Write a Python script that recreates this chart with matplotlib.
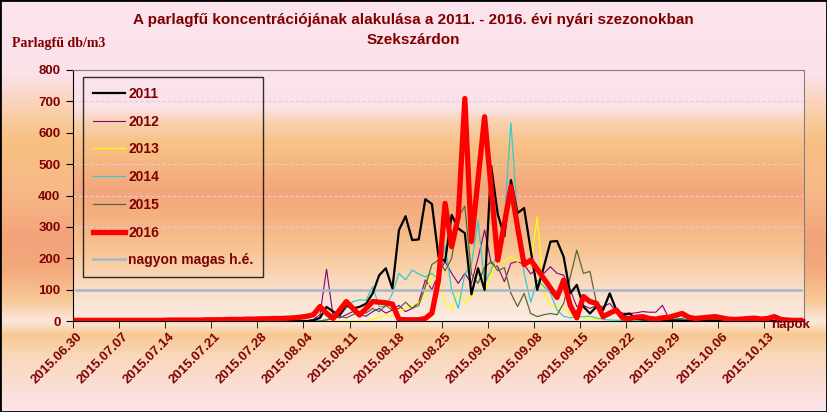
import numpy as np
import matplotlib.pyplot as plt
from matplotlib.patches import Rectangle

plt.rcParams['font.family'] = ['Liberation Sans', 'DejaVu Sans']

# Days 2015.06.30 .. 2015.10.19 (one value per day, every year mapped onto 2015)
tick_labels = ['2015.06.30', '2015.07.07', '2015.07.14', '2015.07.21', '2015.07.28',
               '2015.08.04', '2015.08.11', '2015.08.18', '2015.08.25', '2015.09.01',
               '2015.09.08', '2015.09.15', '2015.09.22', '2015.09.29', '2015.10.06',
               '2015.10.13']

y2011 = [0, 0, 0, 0, 0, 0, 0, 0, 0, 0,
         0, 0, 0, 0, 0, 0, 0, 0, 0, 0,
         0, 0, 0, 0, 0, 0, 0, 0, 0, 0,
         0, 0, 0, 0, 0, 0, 2, 10, 45, 30,
         19, 50, 40, 45, 55, 88, 146, 168, 104, 290,
         334, 258, 260, 388, 373, 205, 190, 338, 295, 280,
         85, 168, 99, 494, 340, 270, 449, 344, 360, 226,
         99, 173, 253, 255, 205, 88, 115, 46, 24, 46,
         35, 88, 35, 19, 24, 8, 5, 4, 3, 2,
         2, 1, 1, 1, 1, 1, 1, 1, 0, 0,
         0, 0, 0, 0, 0, 0, 0, 0, 0, 0,
         0]
y2012 = [0, 0, 0, 0, 0, 0, 0, 0, 0, 0,
         0, 0, 0, 0, 0, 0, 0, 0, 0, 0,
         0, 0, 0, 0, 0, 0, 0, 0, 0, 0,
         0, 0, 0, 0, 0, 0, 5, 20, 165, 15,
         10, 20, 30, 20, 15, 30, 40, 25, 35, 50,
         30, 40, 60, 131, 100, 150, 190, 152, 120, 152,
         120, 200, 290, 184, 173, 125, 184, 190, 180, 150,
         168, 152, 173, 152, 146, 99, 46, 50, 40, 50,
         45, 56, 30, 25, 24, 26, 30, 28, 28, 50,
         8, 5, 3, 3, 3, 3, 2, 2, 2, 2,
         2, 2, 2, 2, 2, 2, 1, 1, 1, 1,
         1]
y2013 = [0, 0, 0, 0, 0, 0, 0, 0, 0, 0,
         0, 0, 0, 0, 0, 0, 0, 0, 0, 0,
         0, 0, 0, 0, 0, 0, 0, 0, 0, 0,
         0, 0, 0, 0, 0, 0, 0, 0, 0, 0,
         0, 0, 0, 0, 0, 5, 10, 20, 15, 30,
         40, 50, 60, 80, 150, 120, 60, 35, 100, 60,
         78, 100, 92, 150, 194, 190, 205, 190, 195, 184,
         332, 88, 51, 46, 40, 20, 15, 10, 8, 5,
         5, 3, 2, 2, 2, 2, 2, 2, 2, 2,
         2, 1, 1, 1, 1, 1, 1, 1, 1, 1,
         1, 1, 1, 1, 1, 1, 1, 1, 1, 1,
         0]
y2014 = [0, 0, 0, 0, 0, 0, 0, 0, 0, 0,
         0, 0, 0, 0, 0, 0, 0, 0, 0, 0,
         0, 0, 0, 0, 0, 0, 0, 0, 0, 0,
         0, 0, 0, 0, 0, 0, 0, 0, 5, 10,
         19, 40, 62, 67, 67, 109, 46, 46, 88, 152,
         131, 162, 150, 140, 152, 131, 240, 100, 40, 150,
         180, 320, 120, 162, 220, 320, 632, 330, 152, 60,
         131, 110, 88, 35, 15, 10, 14, 14, 15, 10,
         5, 3, 2, 2, 2, 2, 2, 2, 2, 2,
         5, 10, 5, 2, 2, 2, 1, 1, 1, 1,
         1, 1, 1, 1, 1, 1, 1, 1, 1, 1,
         0]
y2015 = [0, 0, 0, 0, 0, 0, 0, 0, 0, 0,
         0, 0, 0, 0, 0, 0, 0, 0, 0, 0,
         0, 0, 0, 0, 0, 0, 0, 0, 0, 0,
         0, 0, 0, 0, 0, 0, 0, 0, 3, 8,
         15, 10, 20, 30, 25, 40, 30, 50, 35, 40,
         60, 40, 50, 110, 180, 194, 160, 200, 330, 366,
         150, 120, 170, 190, 160, 170, 88, 46, 88, 24,
         14, 20, 24, 20, 56, 140, 226, 152, 158, 56,
         40, 88, 30, 20, 10, 5, 3, 3, 3, 3,
         3, 5, 8, 15, 6, 3, 3, 3, 3, 2,
         2, 2, 2, 2, 2, 2, 2, 2, 2, 2,
         2]
y2016 = [2, 2, 2, 2, 2, 2, 2, 2, 2, 2,
         2, 2, 2, 2, 3, 3, 3, 3, 3, 3,
         4, 4, 4, 5, 5, 5, 6, 6, 7, 7,
         8, 8, 9, 10, 12, 15, 20, 46, 25, 8,
         35, 62, 40, 19, 40, 62, 60, 58, 54, 5,
         4, 4, 4, 8, 25, 130, 375, 237, 332, 709,
         253, 450, 651, 420, 194, 310, 428, 300, 180, 194,
         165, 135, 105, 75, 130, 50, 10, 78, 62, 56,
         14, 25, 35, 9, 8, 12, 14, 8, 6, 10,
         12, 18, 24, 12, 8, 10, 12, 14, 10, 6,
         5, 6, 8, 9, 6, 8, 14, 5, 3, 2,
         2]
limit = 100  # nagyon magas h.é.

maroon = '#800000'


def vgrad(stops, n=400):
    ys = np.array([s[0] for s in stops], float)
    cols = np.array([s[1] for s in stops], float) / 255
    t = np.linspace(ys[0], ys[-1], n)
    img = np.stack([np.interp(t, ys, cols[:, k]) for k in range(3)], axis=-1)
    return img[:, None, :]


fig_stops = [(0, (252, 228, 238)), (75, (251, 225, 232)), (115, (249, 205, 165)),
             (140, (248, 192, 130)), (190, (247, 185, 135)), (240, (242, 162, 122)),
             (270, (244, 170, 125)), (300, (248, 200, 150)), (322, (251, 232, 220)),
             (335, (248, 200, 145)), (355, (249, 215, 185)), (412, (252, 228, 236))]
plot_stops = [(70, (252, 228, 238)), (108, (251, 226, 232)), (122, (249, 210, 175)),
              (140, (248, 196, 137)), (160, (246, 185, 130)), (192, (243, 166, 124)),
              (220, (245, 178, 130)), (255, (248, 200, 150)), (285, (250, 220, 195)),
              (321, (252, 236, 228))]

fig = plt.figure(figsize=(8.27, 4.12), dpi=100)
bg = fig.add_axes([0, 0, 1, 1], zorder=-10)
bg.imshow(vgrad(fig_stops), aspect='auto', extent=[0, 1, 0, 1])
bg.axis('off')

n = len(y2016)
x = np.arange(n)
ax = fig.add_axes([73 / 827, 1 - 321 / 412, 731 / 827, 251 / 412])
ax.set_facecolor('none')
ax.imshow(vgrad(plot_stops), aspect='auto', extent=[-0.5, n - 0.5, 0, 800], zorder=0)
ax.set_xlim(-0.5, n - 0.5)
ax.set_ylim(0, 800)

ax.set_yticks(range(0, 900, 100))
ax.grid(axis='y', color='#e8c6e6', linestyle=(0, (3, 2)), lw=0.8)
ax.set_axisbelow(True)

series = [('2011', y2011, 'black', 1.6, 5),
          ('2012', y2012, '#800080', 0.8, 3),
          ('2013', y2013, '#ffff00', 0.9, 3),
          ('2014', y2014, '#33cccc', 0.9, 3),
          ('2015', y2015, '#556b2f', 0.9, 3),
          ('2016', y2016, '#ff0000', 3.8, 6)]
handles = []
for name, vals, col, lw, z in series:
    h, = ax.plot(x, vals, color=col, lw=lw, zorder=z, label=name)
    handles.append(h)
h, = ax.plot(x, [limit] * n, color='#a6b6c8', lw=1.8, zorder=4, label='nagyon magas h.é.')
handles.append(h)

leg = ax.legend(handles=handles, loc='upper left', bbox_to_anchor=(0.0137, 0.972),
                frameon=True, fancybox=False, facecolor='none', edgecolor='black',
                prop={'weight': 'bold', 'size': 10}, labelcolor=maroon,
                handlelength=2.3, handletextpad=0.25, labelspacing=0.99,
                borderpad=0.7, borderaxespad=0)
leg.get_frame().set_linewidth(1.0)
leg.set_zorder(10)

for s in ['top', 'right']:
    ax.spines[s].set_color('#808080')
for s in ['left', 'bottom']:
    ax.spines[s].set_color('black')

# ticks at day boundaries, labels at day centres
ax.set_xticks(np.arange(0, n, 7)[:len(tick_labels)])
ax.set_xticklabels(tick_labels, rotation=45, ha='right', va='top',
                   rotation_mode='anchor', fontsize=9.5, fontweight='bold', color=maroon)
ax.tick_params(axis='x', which='major', length=0, pad=7)
ax.set_xticks(np.arange(-0.5, 105, 7), minor=True)
ax.tick_params(axis='x', which='minor', length=5, direction='out', color='black')
ax.tick_params(axis='y', length=5, direction='out', pad=4)
for lab in ax.get_yticklabels():
    lab.set_fontweight('bold')
    lab.set_fontsize(9.5)
    lab.set_color(maroon)

fig.text(0.5, 1 - 20 / 412, 'A parlagfű koncentrációjának alakulása a 2011. - 2016. évi nyári szezonokban',
         ha='center', va='center', fontsize=11, fontweight='bold', color=maroon)
fig.text(0.5, 1 - 40 / 412, 'Szekszárdon', ha='center', va='center',
         fontsize=11, fontweight='bold', color=maroon)
fig.text(12 / 827, 1 - 43 / 412, 'Parlagfű db/m3', ha='left', va='center',
         fontsize=10, fontweight='bold', color=maroon, family=['Liberation Serif'])
fig.text(791 / 827, 1 - 325 / 412, 'napok', ha='center', va='center',
         fontsize=9.5, fontweight='bold', color=maroon)

fig.patches.append(Rectangle((0, 0), 1, 1, transform=fig.transFigure, fill=False,
                             ec='black', lw=2))

fig.savefig('out.png', dpi=100)
